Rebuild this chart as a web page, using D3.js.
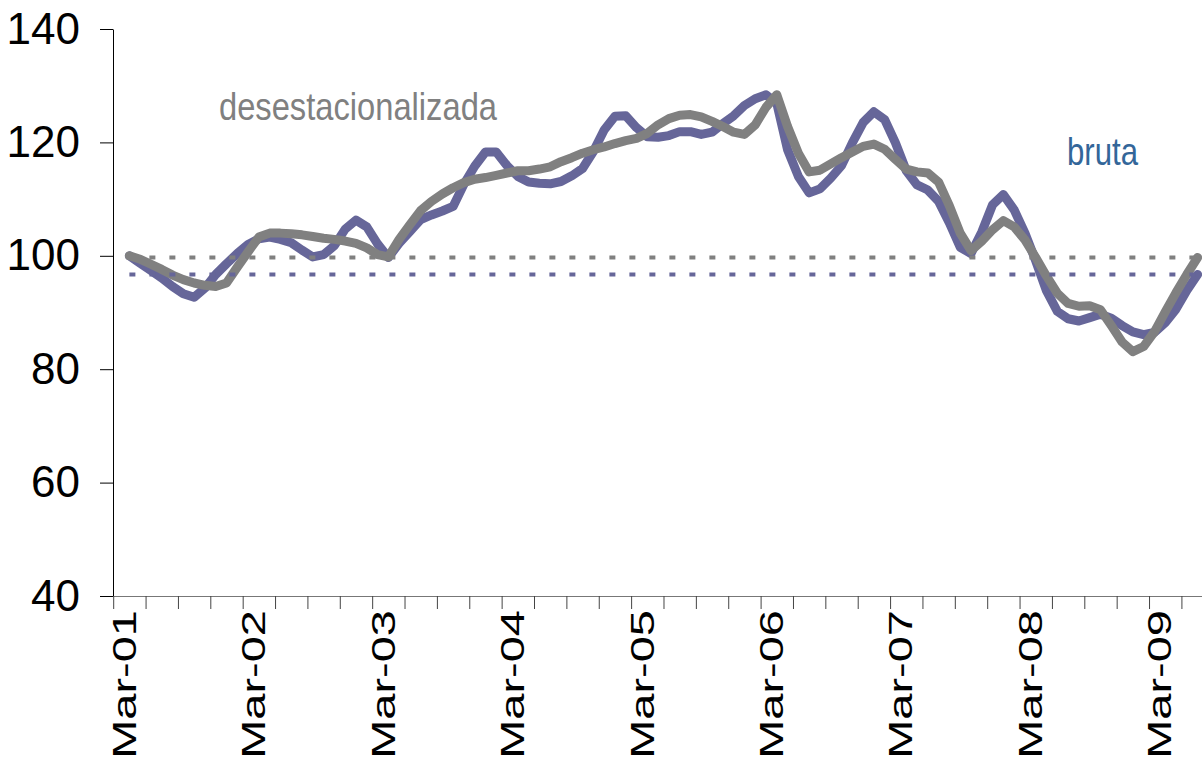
<!DOCTYPE html>
<html>
<head>
<meta charset="utf-8">
<script src="https://cdn.jsdelivr.net/npm/d3@7"></script>
<style>
  body { margin: 0; background: #fff; }
  svg { display: block; }
</style>
</head>
<body>
<div id="chart"></div>
<script>
// monthly categories Mar-01 .. Jul-09, the first month has no value
const months = d3.timeMonth.range(new Date(2001, 2, 1), new Date(2009, 7, 1));
const yTicks = [40, 60, 80, 100, 120, 140];
const xLabels = ['Mar-01', 'Mar-02', 'Mar-03', 'Mar-04', 'Mar-05', 'Mar-06', 'Mar-07', 'Mar-08', 'Mar-09'];

const bruta = [null,
  100.0, 98.7, 97.4, 96.1, 94.6, 93.3, 92.7, 94.3, 96.7, 98.6, 100.4, 102.0,
  103.0, 103.3, 102.9, 102.3, 101.0, 99.8, 100.2, 101.8, 104.7, 106.3, 105.1, 102.1,
  99.7, 102.2, 104.3, 106.4, 107.2, 107.9, 108.7, 112.6, 115.8, 118.3, 118.3, 115.9,
  114.0, 113.0, 112.8, 112.7, 113.1, 114.1, 115.4, 118.4, 122.2, 124.6, 124.7, 122.6,
  121.0, 120.9, 121.2, 121.9, 121.9, 121.4, 121.8, 123.3, 124.7, 126.5, 127.7, 128.4,
  126.9, 118.7, 114.0, 111.1, 111.8, 113.7, 115.9, 119.9, 123.5, 125.4, 124.0, 119.9,
  115.0, 112.5, 111.6, 109.6, 105.8, 101.5, 100.4, 104.2, 109.0, 110.8, 108.1, 104.0,
  99.1, 93.8, 90.2, 88.9, 88.5, 89.1, 89.7, 89.0, 87.7, 86.6, 86.1, 86.5,
  88.2, 90.6, 93.9, 96.7
];

const desest = [null,
  100.0, 99.4, 98.5, 97.6, 96.6, 95.8, 95.2, 94.8, 94.6, 95.2, 98.0, 100.7,
  103.3, 104.0, 104.0, 103.9, 103.7, 103.4, 103.1, 102.9, 102.6, 102.2, 101.4, 100.2,
  99.8, 102.9, 105.5, 108.0, 109.6, 110.9, 112.0, 112.9, 113.5, 113.8, 114.2, 114.6,
  115.0, 115.0, 115.3, 115.7, 116.6, 117.3, 118.1, 118.7, 119.2, 119.8, 120.3, 120.7,
  121.6, 123.1, 124.2, 124.8, 124.9, 124.5, 123.7, 122.8, 121.8, 121.4, 123.1, 126.2,
  128.4, 122.8, 118.1, 114.8, 115.1, 116.2, 117.3, 118.3, 119.3, 119.7, 118.8, 117.0,
  115.3, 114.8, 114.6, 113.0, 108.8, 104.0, 100.9, 102.6, 104.6, 106.2, 105.1, 102.8,
  99.7, 96.4, 93.4, 91.6, 91.1, 91.2, 90.5, 87.7, 84.8, 83.1, 84.0, 86.6,
  90.1, 93.5, 96.7, 99.7
];

const width = 1202;
const height = 759;
const fmt = d3.timeFormat('%b-%y');

const svg = d3.select('#chart')
    .append('svg')
    .attr('width', width)
    .attr('height', height);

const x = d3.scaleBand()
    .domain(months.map(fmt))
    .range([113.2, 113.2 + 10.79 * months.length]);

const y = d3.scaleLinear()
    .domain([40, 140])
    .range([596, 29]);

const cx = (i) => x(fmt(months[i])) + x.bandwidth() / 2;

// y axis
const yAxis = svg.append('g')
    .attr('transform', 'translate(113,0)')
    .call(d3.axisLeft(y).tickValues(yTicks).tickSize(13).tickSizeOuter(0).tickPadding(20));
yAxis.select('.domain').attr('stroke', '#000');
yAxis.selectAll('.tick line').attr('stroke', '#000');
yAxis.selectAll('text')
    .attr('font-family', 'Liberation Sans, Arial, sans-serif')
    .attr('font-size', 44)
    .attr('fill', '#000');

// x axis: ticks every 3 months at category boundaries
const xAxis = svg.append('g')
    .attr('transform', 'translate(0,596)')
    .call(d3.axisBottom(x)
        .tickValues(months.filter((d, i) => i % 3 === 0).map(fmt))
        .tickSize(13)
        .tickSizeOuter(0)
        .tickFormat(''));
xAxis.select('.domain').attr('stroke', '#777');
xAxis.selectAll('.tick')
    .attr('transform', (d) => `translate(${x(d) + 0.5},0)`);
xAxis.selectAll('.tick line').attr('stroke', '#444');

svg.append('g')
    .selectAll('text')
    .data(xLabels)
    .enter().append('text')
    .attr('transform', (d) => {
        const i = months.findIndex((m) => fmt(m) === d);
        return `translate(${cx(i) + 17},610) rotate(-90) scale(1,0.72)`;
    })
    .attr('text-anchor', 'end')
    .attr('font-family', 'Liberation Sans, Arial, sans-serif')
    .attr('font-size', 47)
    .attr('fill', '#000')
    .text((d) => d);

const line = d3.line()
    .defined((d) => d != null)
    .x((d, i) => cx(i))
    .y((d) => y(d));

// reference lines at the last value of each series
const refs = [
    { values: bruta, color: '#666699' },
    { values: desest, color: '#808080' }
];

svg.append('path')
    .attr('d', line(bruta))
    .attr('fill', 'none')
    .attr('stroke', '#666699')
    .attr('stroke-width', 9)
    .attr('stroke-linejoin', 'round')
    .attr('stroke-linecap', 'round');

svg.append('path')
    .attr('d', line(desest))
    .attr('fill', 'none')
    .attr('stroke', '#808080')
    .attr('stroke-width', 9)
    .attr('stroke-linejoin', 'round')
    .attr('stroke-linecap', 'round');

svg.selectAll('.ref')
    .data(refs)
    .enter().append('line')
    .attr('class', 'ref')
    .attr('x1', cx(1))
    .attr('x2', cx(months.length - 1))
    .attr('y1', (d) => y(d.values[d.values.length - 1]))
    .attr('y2', (d) => y(d.values[d.values.length - 1]))
    .attr('stroke', (d) => d.color)
    .attr('stroke-width', 4)
    .attr('stroke-dasharray', '6,14');

svg.append('text')
    .attr('x', 219)
    .attr('y', 120)
    .attr('font-family', 'Liberation Sans Narrow, Arial Narrow, sans-serif')
    .attr('font-size', 39)
    .attr('textLength', 278)
    .attr('lengthAdjust', 'spacingAndGlyphs')
    .attr('fill', '#808080')
    .text('desestacionalizada');

svg.append('text')
    .attr('x', 1067)
    .attr('y', 165)
    .attr('font-family', 'Liberation Sans Narrow, Arial Narrow, sans-serif')
    .attr('font-size', 39)
    .attr('textLength', 71)
    .attr('lengthAdjust', 'spacingAndGlyphs')
    .attr('fill', '#336699')
    .text('bruta');
</script>
</body>
</html>
